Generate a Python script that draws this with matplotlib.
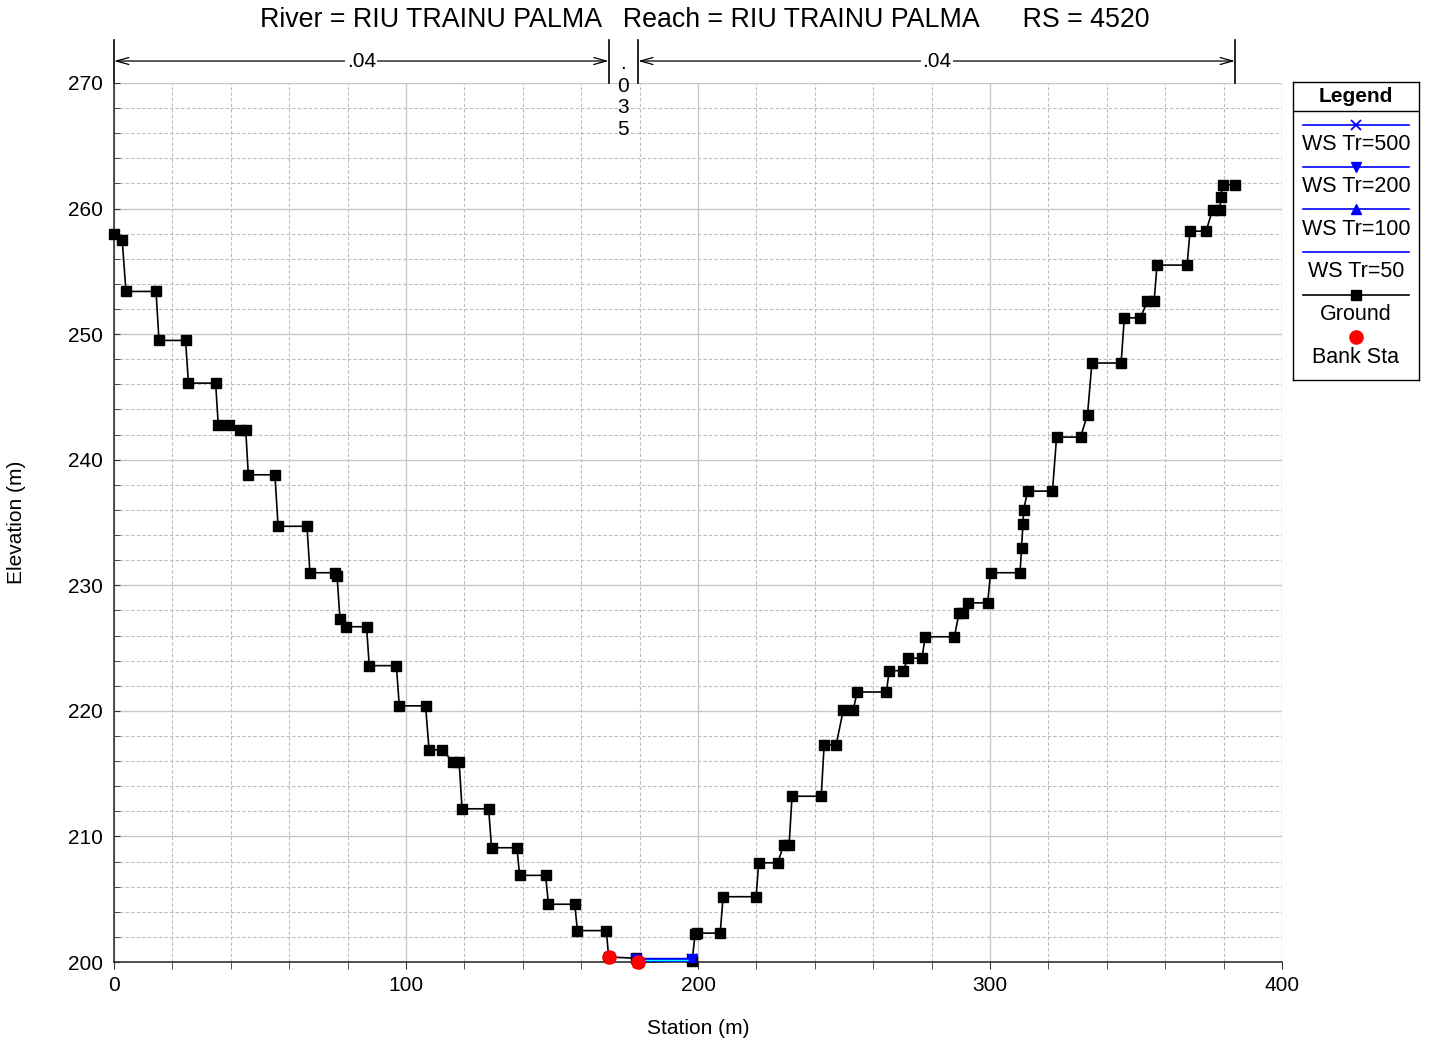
import matplotlib
matplotlib.use("Agg")
import matplotlib.pyplot as plt
from matplotlib.ticker import MultipleLocator
from matplotlib.transforms import blended_transform_factory

plt.rcParams['font.family'] = ['Liberation Sans', 'DejaVu Sans']

# ---------------- data ----------------
title = "River = RIU TRAINU PALMA   Reach = RIU TRAINU PALMA      RS = 4520"

ground_sta = [0, 2.8, 4.1, 14.4, 15.4, 24.5, 25.5, 34.8, 35.7, 39.4, 43.2, 45.1,
              46.0, 55.1, 56.2, 66.1, 67.1, 75.7, 76.4, 77.4, 79.5, 86.5, 87.4, 96.7,
              97.7, 106.7, 107.9, 112.4, 116.2, 118.2, 119.2, 128.3, 129.3, 138.0,
              138.9, 147.8, 148.8, 157.8, 158.7, 168.6, 169.4, 178.6, 179.5, 198.0,
              199.0, 199.6, 207.6, 208.6, 219.9, 220.8, 227.3, 229.3, 231.2, 232.2,
              242.2, 243.2, 247.3, 249.8, 253.2, 254.5, 264.5, 265.5, 270.2, 272.0,
              276.7, 277.8, 287.8, 289.4, 290.8, 292.3, 299.2, 300.2, 310.3, 310.8,
              311.3, 311.5, 312.9, 321.4, 322.8, 331.0, 333.4, 334.9, 344.9, 346.0,
              351.5, 353.9, 356.2, 357.2, 367.5, 368.5, 374.0, 376.2, 378.8, 379.0,
              379.7, 383.9]
ground_elev = [258.0, 257.5, 253.4, 253.4, 249.5, 249.5, 246.1, 246.1, 242.8, 242.8, 242.4, 242.4,
               238.8, 238.8, 234.7, 234.7, 231.0, 231.0, 230.7, 227.3, 226.7, 226.7, 223.6, 223.6,
               220.4, 220.4, 216.9, 216.9, 215.9, 215.9, 212.2, 212.2, 209.1, 209.1,
               206.9, 206.9, 204.6, 204.6, 202.5, 202.5, 200.4, 200.3, 200.0, 200.1,
               202.2, 202.3, 202.3, 205.2, 205.2, 207.9, 207.9, 209.3, 209.3, 213.2,
               213.2, 217.3, 217.3, 220.1, 220.1, 221.5, 221.5, 223.2, 223.2, 224.2,
               224.2, 225.9, 225.9, 227.8, 227.8, 228.6, 228.6, 231.0, 231.0, 233.0,
               234.9, 236.0, 237.5, 237.5, 241.8, 241.8, 243.6, 247.7, 247.7, 251.3,
               251.3, 252.6, 252.6, 255.5, 255.5, 258.2, 258.2, 259.9, 259.9, 260.9,
               261.9, 261.9]

bank_sta = [169.4, 179.5]
bank_elev = [200.4, 200.0]

ws_sta = [178.9, 198.05]
ws500 = [200.2, 200.2]
ws200 = [200.2, 200.2]
ws100 = [200.2, 200.2]
ws50 = [200.18, 200.18]

n_breaks = [0, 169.4, 179.5, 383.9]
n_values = [".04", ".035", ".04"]

legend_labels = ["WS Tr=500", "WS Tr=200", "WS Tr=100", "WS Tr=50", "Ground", "Bank Sta"]

# ---------------- figure ----------------
fig = plt.figure(figsize=(14.30, 10.44), dpi=100)
ax = fig.add_axes([114/1430, 82/1044, (1282-114)/1430, (962-83)/1044])

ax.set_xlim(0, 400)
ax.set_ylim(200, 270)
ax.xaxis.set_major_locator(MultipleLocator(100))
ax.xaxis.set_minor_locator(MultipleLocator(20))
ax.yaxis.set_major_locator(MultipleLocator(10))
ax.yaxis.set_minor_locator(MultipleLocator(2))
ax.grid(which='major', color='#c8c8c8', linestyle='-', linewidth=1.0)
ax.grid(which='minor', color='#bcbcbc', linestyle=(0, (3, 2)), linewidth=0.8)
ax.set_axisbelow(True)
for s in ['top', 'right']:
    ax.spines[s].set_visible(False)
for s in ['left', 'bottom']:
    ax.spines[s].set_color('#333333')
    ax.spines[s].set_linewidth(1.2)
ax.tick_params(axis='x', which='both', direction='out', length=5, labelsize=15, pad=5, color='#333333')
ax.tick_params(axis='y', which='both', direction='in', length=4, labelsize=15, pad=8, color='#333333')

ax.set_xlabel("Station (m)", fontsize=15, labelpad=17)
ax.set_ylabel("Elevation (m)", fontsize=15, labelpad=30)

# water surfaces
ax.plot(ws_sta, ws50, color='blue', lw=3.2, zorder=4, solid_capstyle='butt')
ax.plot(ws_sta, ws50, color='cyan', lw=1.0, zorder=4.1)
ax.plot(ws_sta, ws100, color='blue', lw=0, marker='^', ms=7, zorder=5)
ax.plot(ws_sta, ws200, color='blue', lw=0, marker='v', ms=7, zorder=5)
ax.plot(ws_sta, ws500, color='blue', lw=0, marker='x', ms=7, mew=1.5, zorder=5)

# ground
ax.plot(ground_sta, ground_elev, color='black', lw=1.2, marker='s', ms=6.5, zorder=3, clip_on=False)
# bank stations
ax.plot(bank_sta, bank_elev, lw=0, marker='o', color='red', ms=9.5, zorder=6, clip_on=False)

# Manning's n annotations
tr = blended_transform_factory(ax.transData, ax.transAxes)
y_lo, y_hi, y_arr = 1.0, 1.049, 1.025
for xb in n_breaks:
    ax.plot([xb, xb], [y_lo, y_hi], transform=tr, color='black', lw=1.2, clip_on=False)
for i, val in enumerate(n_values):
    x0, x1 = n_breaks[i], n_breaks[i + 1]
    xm = (x0 + x1) / 2
    if x1 - x0 > 30:
        ax.annotate("", xy=(x0, y_arr), xytext=(x1, y_arr), xycoords=tr, textcoords=tr,
                    arrowprops=dict(arrowstyle='<->,head_length=0.9,head_width=0.25',
                                    color='black', lw=0.9, shrinkA=0, shrinkB=0),
                    annotation_clip=False)
        ax.text(xm, y_arr, val, transform=tr, ha='center', va='center', fontsize=15,
                bbox=dict(facecolor='white', edgecolor='none', pad=1.0), zorder=10)
    else:
        ys = [1.022, 0.9965, 0.9725, 0.9475]
        for ch, yy in zip(val, ys):
            ax.text(xm, yy, ch, transform=tr, ha='center', va='center', fontsize=15,
                    zorder=10, clip_on=False)

fig.text(705/1430, 1 - 20/1044, title, ha='center', va='center', fontsize=19.3)

# ---------------- legend (custom box) ----------------
lax = fig.add_axes([1293/1430, (1044-380)/1044, 126/1430, 298/1044])
lax.set_xlim(0, 126)
lax.set_ylim(298, 0)
lax.set_xticks([])
lax.set_yticks([])
for s in lax.spines.values():
    s.set_linewidth(1.0)
    s.set_color('black')
lax.text(63, 14.5, "Legend", ha='center', va='center', fontsize=15, fontweight='bold')
lax.plot([0, 126], [29, 29], color='black', lw=1.0)
rows = [(43, 62.5), (85, 104.5), (127, 147.5), (170, 189.5), (213, 232.5), (255, 275.5)]
styles = [dict(color='blue', marker='x', ms=7, mew=1.3),
          dict(color='blue', marker='v', ms=7),
          dict(color='blue', marker='^', ms=7),
          dict(color='blue'),
          dict(color='black', marker='s', ms=6.5),
          None]
for (yl, yt), lab, st in zip(rows, legend_labels, styles):
    if st is not None:
        lax.plot([10, 116], [yl, yl], lw=1.2, **{k: v for k, v in st.items() if k not in ('marker', 'ms', 'mew')})
        if 'marker' in st:
            lax.plot([63], [yl], lw=0, **st)
    else:
        lax.plot([63], [yl], lw=0, marker='o', color='red', ms=9.5)
    lax.text(63, yt, lab, ha='center', va='center', fontsize=15.5)

fig.savefig("out.png", dpi=100)
